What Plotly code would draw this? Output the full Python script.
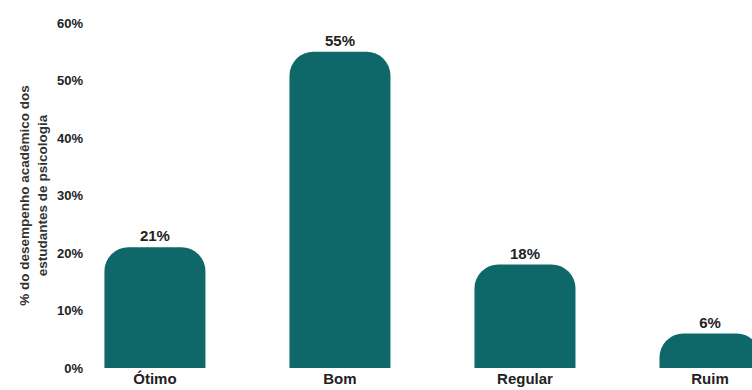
import plotly.graph_objects as go

categories = ["Ótimo", "Bom", "Regular", "Ruim"]
values = [21, 55, 18, 6]
labels = ["21%", "55%", "18%", "6%"]

FONT = "Liberation Sans, Arial, sans-serif"

fig = go.Figure(go.Bar(
    x=list(range(len(categories))), y=values,
    text=labels, textposition="outside",
    textfont=dict(family=FONT, size=15, color="#222222", weight="bold"),
    marker=dict(color="#0E6869", cornerradius=24, line=dict(width=0)),
    width=0.546, cliponaxis=False,
))
fig.update_layout(
    width=752, height=390,
    margin=dict(l=90, r=0, t=23, b=22),
    plot_bgcolor="white", paper_bgcolor="white",
    showlegend=False,
    font=dict(family=FONT, size=13, color="#222222"),
)
fig.update_xaxes(
    range=[-0.351, 3.227], tickmode="array",
    tickvals=list(range(len(categories))), ticktext=categories,
    showgrid=False, zeroline=False, showline=False, automargin=False,
    tickfont=dict(size=15, weight="bold", color="#222222"),
)
fig.update_yaxes(
    range=[0, 60], dtick=10, ticksuffix="%",
    showgrid=False, zeroline=False, showline=False, automargin=False,
    tickfont=dict(size=13, weight="bold", color="#222222"),
    ticklabelstandoff=6,
    title=dict(text="% do desempenho acadêmico dos<br>estudantes de psicologia",
               font=dict(size=13.5, weight="bold", color="#333333"), standoff=6),
)
fig.write_html("out.html", config={"displayModeBar": False},
               post_script="document.body.style.margin='0';document.body.style.overflow='hidden';")
